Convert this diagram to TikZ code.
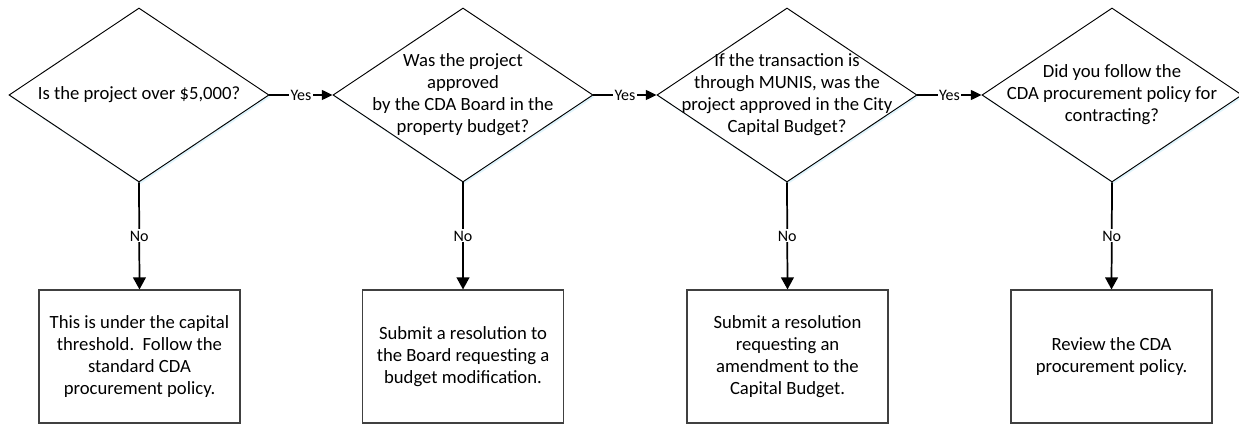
\documentclass[tikz,border=0pt]{standalone}
\usepackage{fontspec}
\setmainfont{Carlito}
\usetikzlibrary{shapes.geometric,arrows.meta,shadows}
\begin{document}
\begin{tikzpicture}[x=0.75pt,y=-0.75pt,
  dec/.style={diamond, draw=black, line width=0.7pt, fill=white,
    minimum width=195pt, minimum height=130.5pt, inner sep=0pt,
    drop shadow={shadow xshift=1pt, shadow yshift=-1.5pt, fill=cyan!35, opacity=0.35}},
  dtext/.style={align=center, font=\fontsize{14}{16.5}\selectfont, inner sep=0pt},
  endbox/.style={rectangle, draw=black!75, line width=0.8pt, fill=white,
    minimum width=150.75pt, minimum height=99.75pt, inner sep=0pt,
    align=center, font=\fontsize{14}{16.5}\selectfont},
  lab/.style={fill=white, inner sep=1pt, font=\fontsize{12}{14}\selectfont},
  yesarr/.style={-{Triangle[length=8pt,width=7.5pt]}, line width=0.9pt},
  noarr/.style={-{Triangle[length=9pt,width=9.5pt]}, line width=1.3pt}]
\useasboundingbox (0,0) rectangle (1239,424);
\fill[white] (0,0) rectangle (1239,424);

\node[dec] (d1) at (139,95) {};
\node[dec] (d2) at (463,95) {};
\node[dec] (d3) at (787,95) {};
\node[dec] (d4) at (1112,95) {};

\node[dtext] (t1) at (d1) {Is the project over \$5,000?};
\node[dtext] (t2) at (d2) {Was the project\\approved\\by the CDA Board in the\\property budget?};
\node[dtext] (t3) at (d3) {If the transaction is\\through MUNIS, was the\\project approved in the City\\Capital Budget?};
\node[dtext] (t4) at (d4) {Did you follow the\\CDA procurement policy for\\contracting?};

\node[endbox] (b1) at (139.5,356.5) {This is under the capital\\threshold.\ \ Follow the\\standard CDA\\procurement policy.};
\node[endbox] (b2) at (463,356.5) {Submit a resolution to\\the Board requesting a\\budget modification.};
\node[endbox] (b3) at (787.5,356.5) {Submit a resolution\\requesting an\\amendment to the\\Capital Budget.};
\node[endbox] (b4) at (1111.5,356.5) {Review the CDA\\procurement policy.};

\draw[yesarr] (d1.east) -- node[lab] (y1) {Yes} (d2.west);
\draw[yesarr] (d2.east) -- node[lab] (y2) {Yes} (d3.west);
\draw[yesarr] (d3.east) -- node[lab] (y3) {Yes} (d4.west);

\draw[noarr] (d1.south) -- node[lab] (n1) {No} (b1.north);
\draw[noarr] (d2.south) -- node[lab] (n2) {No} (b2.north);
\draw[noarr] (d3.south) -- node[lab] (n3) {No} (b3.north);
\draw[noarr] (d4.south) -- node[lab] (n4) {No} (b4.north);
\end{tikzpicture}
\end{document}
